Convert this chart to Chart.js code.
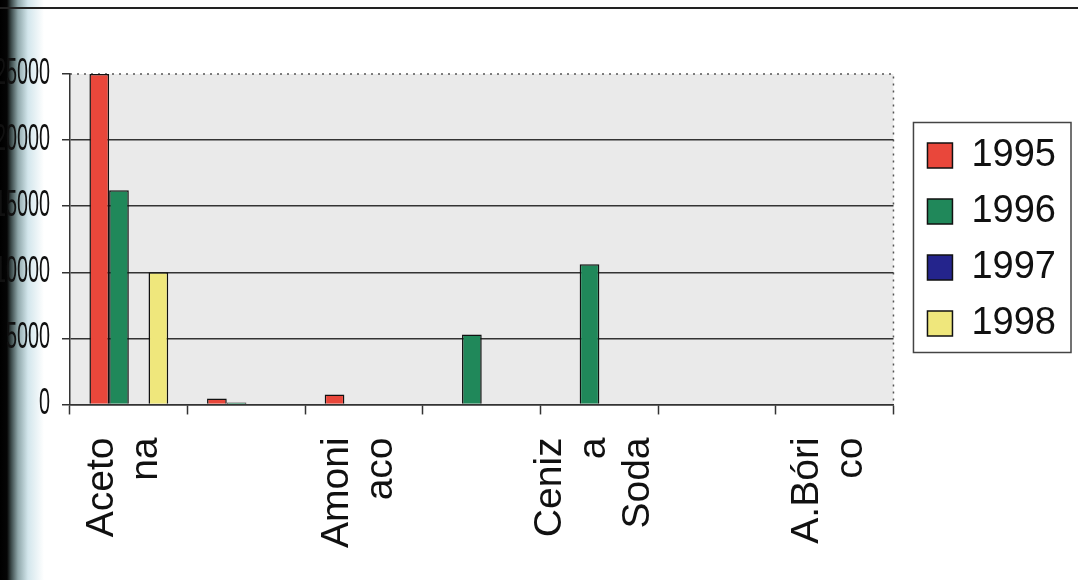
<!DOCTYPE html>
<html>
<head>
<meta charset="utf-8">
<script src="https://cdn.jsdelivr.net/npm/chart.js@4/dist/chart.umd.min.js"></script>
<style>
  html, body { margin: 0; padding: 0; background: #fff; }
  .wrap { position: relative; width: 1078px; height: 580px; overflow: hidden; }
  .wrap canvas { position: absolute; left: 0; top: 0; }
  .edge { position: absolute; left: 0; top: 0; width: 44px; height: 580px;
    background: linear-gradient(to right, #000 0, #050505 7px, #3a4848 11px, #8fa7aa 18px, #d3e6ec 28px, #fff 44px); }
  .topline { position: absolute; left: 0; top: 7px; width: 1078px; height: 2px; background: #222; }
</style>
</head>
<body>
<div class="wrap">
  <div class="edge"></div>
  <canvas id="chart" width="1078" height="580"></canvas>
  <div class="topline"></div>
</div>
<script>
// category names, split the way the axis shows them (blank = label skipped)
let categories = [["Aceto", "na"], [], ["Amoni", "aco"], [], ["Ceniz", "a", "Soda"], [], ["A.Bóri", "co"]]
let years = ['1995', '1996', '1997', '1998']

let v1995 = [25000, 450, 750, 0, 0, 0, 0]
let v1996 = [16200, 150, 0, 5300, 10600, 0, 0]
let v1997 = [0, 0, 0, 0, 0, 0, 0]
let v1998 = [10000, 0, 0, 0, 0, 0, 0]

let yTicks = [0, 5000, 10000, 15000, 20000, 25000]

let colors = ['#e9473b', '#20885a', '#24248c', '#efe77c']
let fontFam = "'Liberation Sans', Arial, sans-serif"

let lineStep = 22
let legendDx = 16
let legendDy = -83

// pad the lines so each wrapped label sits centred on its category
function padLines(lines) {
    if (!lines.length) return ''
    let out = []
    for (let i = 0; i < 3 - lines.length; i++) out.push('')
    lines.forEach((l, i) => {
        if (i > 0) out.push('')
        out.push(l)
    })
    return out
}

const plotBack = {
    id: 'plotBack',
    afterInit(chart) {
        // wider legend box, items moved inside it
        let lg = chart.legend
        let fit = lg.fit.bind(lg)
        lg.fit = function () { fit(); this.width += 20 }
        let draw = lg.draw.bind(lg)
        lg.draw = function () {
            this.ctx.save()
            this.ctx.translate(legendDx, legendDy)
            draw()
            this.ctx.restore()
        }
    },
    beforeDraw(chart) {
        // squeeze the y labels sideways like the scanned original
        let s = chart.scales.y
        if (!s._squeezed) {
            let orig = s.drawLabels
            s.drawLabels = function (area) {
                let ctx = this.ctx
                let x = this.right - 20
                let l = this.left
                this.left = -300
                ctx.save()
                ctx.translate(x, 0)
                ctx.scale(0.55, 1)
                ctx.translate(-x, 0)
                orig.call(this, area)
                ctx.restore()
                this.left = l
            }
            s._squeezed = true
        }
        let a = chart.chartArea
        let ctx = chart.ctx
        ctx.save()
        ctx.fillStyle = '#eaeaea'
        ctx.fillRect(a.left, a.top, a.right - a.left, a.bottom - a.top)
        ctx.strokeStyle = '#555'
        ctx.lineWidth = 1.5
        ctx.setLineDash([2, 5])
        ctx.beginPath()
        ctx.moveTo(a.left, a.top)
        ctx.lineTo(a.right, a.top)
        ctx.lineTo(a.right, a.bottom)
        ctx.stroke()
        ctx.restore()
    },
    afterDraw(chart) {
        let hb = chart.legend.legendHitBoxes
        if (!hb || !hb.length) return
        let left = Math.min(...hb.map(h => h.left)) + legendDx - 14
        let right = Math.max(...hb.map(h => h.left + h.width)) + legendDx + 15
        let top = hb[0].top + legendDy - 14
        let last = hb[hb.length - 1]
        let bottom = last.top + last.height + legendDy + 10
        let ctx = chart.ctx
        ctx.save()
        ctx.strokeStyle = '#444'
        ctx.lineWidth = 1.5
        ctx.strokeRect(left, top, right - left, bottom - top)
        ctx.restore()
    }
}

let datasets = [v1995, v1996, v1997, v1998].map((vals, i) => ({
    label: years[i],
    data: vals,
    backgroundColor: colors[i],
    borderColor: '#111',
    borderWidth: 1.5,
    categoryPercentage: 0.67,
    barPercentage: 1.0
}))

new Chart(document.getElementById('chart'), {
    type: 'bar',
    data: {
        labels: categories.map(c => c.join(' ')),
        datasets: datasets
    },
    options: {
        responsive: false,
        animation: false,
        devicePixelRatio: 1,
        layout: { padding: { top: 74, right: 8, bottom: 9, left: 0 } },
        plugins: {
            title: { display: false },
            tooltip: { enabled: false },
            legend: {
                position: 'right',
                labels: {
                    color: '#111',
                    font: { family: fontFam, size: 38 },
                    boxWidth: 25,
                    boxHeight: 25,
                    padding: 18
                }
            }
        },
        scales: {
            x: {
                grid: { drawOnChartArea: false, offset: true, tickLength: 10, tickColor: '#333', tickWidth: 1.5 },
                border: { color: '#333', width: 1.5 },
                ticks: {
                    autoSkip: false,
                    minRotation: 90,
                    maxRotation: 90,
                    padding: 23,
                    labelOffset: -2 * lineStep - 5,
                    color: '#111',
                    font: { family: fontFam, size: 39, lineHeight: lineStep / 39 },
                    callback: (v, i) => padLines(categories[i])
                }
            },
            y: {
                min: 0,
                max: 25000,
                afterFit: s => { s.width = 70 },
                afterBuildTicks: s => { s.ticks = yTicks.map(v => ({ value: v })) },
                grid: {
                    color: c => c.tick && c.tick.value === 25000 ? 'rgba(0,0,0,0)' : '#333',
                    lineWidth: 1.5,
                    tickLength: 8,
                    tickColor: '#333'
                },
                border: { color: '#333', width: 1.5 },
                ticks: {
                    padding: 12,
                    color: '#111',
                    font: { family: fontFam, size: 36 },
                    callback: v => String(v)
                }
            }
        }
    },
    plugins: [plotBack]
})
</script>
</body>
</html>
